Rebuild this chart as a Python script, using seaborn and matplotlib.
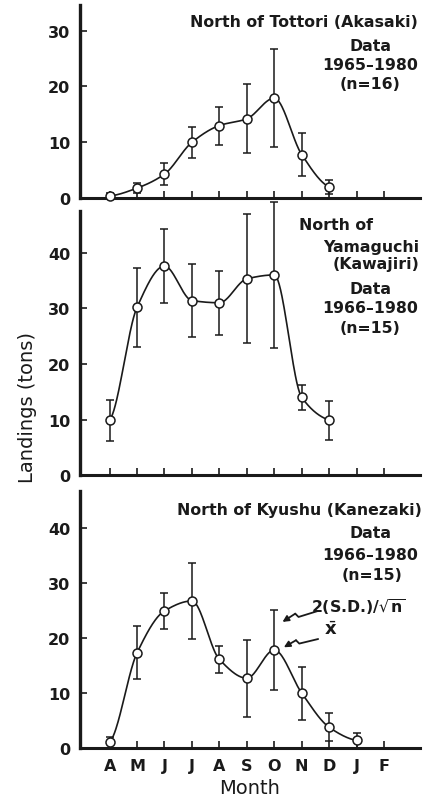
import seaborn as sns
import pandas as pd
import matplotlib.pyplot as plt
import numpy as np

months = ['A', 'M', 'J', 'J', 'A', 'S', 'O', 'N', 'D', 'J', 'F']

# North of Tottori (Akasaki), Apr-Dec
tottori_mean = [0.4, 1.8, 4.3, 10.0, 13.0, 14.2, 17.9, 7.8, 2.0]
tottori_err = [0.6, 0.9, 2.0, 2.8, 3.4, 6.2, 8.8, 3.9, 1.3]

# North of Yamaguchi (Kawajiri), Apr-Dec
yamaguchi_mean = [9.9, 30.2, 37.6, 31.4, 31.0, 35.3, 36.0, 14.0, 9.9]
yamaguchi_err = [3.7, 7.1, 6.6, 6.6, 5.8, 11.6, 13.2, 2.2, 3.5]

# North of Kyushu (Kanezaki), Apr-Jan
kyushu_mean = [1.1, 17.3, 24.9, 26.7, 16.1, 12.7, 17.8, 10.0, 3.8, 1.4]
kyushu_err = [1.0, 4.8, 3.3, 6.9, 2.5, 7.0, 7.2, 4.8, 2.5, 1.3]

sns.set_theme(style='ticks',
              rc={'text.color': 'k', 'axes.labelcolor': 'k',
                  'axes.edgecolor': 'k', 'xtick.color': 'k',
                  'ytick.color': 'k'})
plt.rcParams['font.family'] = ['DejaVu Sans']


def smooth(x, y, n=40):
    #monotone cubic (pchip) curve through the points, drawing only
    x = np.asarray(x, float)
    y = np.asarray(y, float)
    h = np.diff(x)
    d = np.diff(y) / h
    m = np.zeros_like(y)
    for k in range(1, len(y)-1):
        if d[k-1]*d[k] > 0:
            w1 = 2*h[k] + h[k-1]
            w2 = h[k] + 2*h[k-1]
            m[k] = (w1 + w2) / (w1/d[k-1] + w2/d[k])
    #ends flatten out a bit like the hand drawn curves
    m[0] = 0.3*d[0]
    m[-1] = 0.4*d[-1]
    xs, ys = [], []
    t = np.linspace(0, 1, n)
    for k in range(len(y)-1):
        h00 = 2*t**3 - 3*t**2 + 1
        h10 = t**3 - 2*t**2 + t
        h01 = -2*t**3 + 3*t**2
        h11 = t**3 - t**2
        xs.extend(x[k] + t*h[k])
        ys.extend(h00*y[k] + h10*h[k]*m[k] + h01*y[k+1] + h11*h[k]*m[k+1])
    return np.array(xs), np.array(ys)


def draw_panel(ax, mean, err, ymax, yticks):
    df = pd.DataFrame({'pos': np.arange(len(mean)), 'mean': mean, 'err': err})
    cx, cy = smooth(df['pos'], df['mean'])
    sns.lineplot(x=cx, y=cy, ax=ax, color='k', lw=1.2, sort=False,
                 estimator=None, clip_on=False)
    ax.errorbar(df['pos'], df['mean'], yerr=df['err'], fmt='none',
                ecolor='k', elinewidth=1.1, capsize=3.2, capthick=1.1,
                clip_on=False, zorder=3)
    sns.scatterplot(data=df, x='pos', y='mean', ax=ax, s=42,
                    color='white', edgecolor='k', linewidth=1.1,
                    zorder=4, clip_on=False)
    ax.set_xlim(-1.08, 11.3)
    ax.set_ylim(0, ymax)
    ax.set_xticks(range(len(months)))
    ax.set_yticks(yticks)
    ax.set_xlabel('')
    ax.set_ylabel('')
    sns.despine(ax=ax)
    ax.spines['left'].set_linewidth(2.4)
    ax.spines['bottom'].set_linewidth(2.2)
    ax.tick_params(direction='in', length=5, width=1.2, labelsize=11.5,
                   pad=7, colors='k')
    ax.set_yticklabels([str(v) for v in yticks], fontweight='bold')


fig = plt.figure(figsize=(4.3, 8.03), dpi=100)
ax1 = fig.add_axes([0.186, 0.752, 0.79, 0.240])
ax2 = fig.add_axes([0.186, 0.407, 0.79, 0.329])
ax3 = fig.add_axes([0.186, 0.067, 0.79, 0.320])

draw_panel(ax1, tottori_mean, tottori_err, 34.5, [0, 10, 20, 30])
draw_panel(ax2, yamaguchi_mean, yamaguchi_err, 47.5, [0, 10, 20, 30, 40])
draw_panel(ax3, kyushu_mean, kyushu_err, 46.6, [0, 10, 20, 30, 40])

ax1.set_xticklabels([])
ax2.set_xticklabels([])
ax3.set_xticklabels(months, fontweight='bold')
ax3.set_xlabel('Month', fontsize=14, labelpad=4)

# panel captions
kw = dict(fontsize=11.3, fontweight='bold', va='center',
          transform=ax1.transAxes)
ax1.text(0.995, 0.917, 'North of Tottori (Akasaki)', ha='right', **kw)
ax1.text(0.855, 0.793, 'Data', ha='center', **kw)
ax1.text(0.855, 0.694, '1965\u20131980', ha='center', **kw)
ax1.text(0.855, 0.596, '(n=16)', ha='center', **kw)

kw['transform'] = ax2.transAxes
ax2.text(0.645, 0.947, 'North of', ha='left', **kw)
ax2.text(1.0, 0.867, 'Yamaguchi', ha='right', **kw)
ax2.text(1.0, 0.80, '(Kawajiri)', ha='right', **kw)
ax2.text(0.855, 0.705, 'Data', ha='center', **kw)
ax2.text(0.855, 0.636, '1966\u20131980', ha='center', **kw)
ax2.text(0.855, 0.56, '(n=15)', ha='center', **kw)

kw['transform'] = ax3.transAxes
ax3.text(1.005, 0.93, 'North of Kyushu (Kanezaki)', ha='right', **kw)
ax3.text(0.855, 0.84, 'Data', ha='center', **kw)
ax3.text(0.855, 0.755, '1966\u20131980', ha='center', **kw)
ax3.text(0.86, 0.677, '(n=15)', ha='center', **kw)
ax3.text(0.68, 0.553, r'2(S.D.)/$\sqrt{\mathbf{n}}$', ha='left', **kw)
kw['fontsize'] = 13
ax3.text(0.718, 0.463, r'$\bar{\mathbf{x}}$', ha='left', **kw)

# zigzag pointer arrows
for tail, head in (((7.6, 24.9), (6.3, 22.9)), ((7.6, 19.8), (6.35, 18.3))):
    tx, ty = tail
    hx, hy = head
    mx = tx + 0.55*(hx - tx)
    my = ty + 0.55*(hy - ty)
    ax3.plot([tx, mx, mx - 0.12], [ty, my, my + 0.6], color='k', lw=1.3)
    ax3.annotate('', xy=head, xytext=(mx - 0.12, my + 0.6),
                 arrowprops=dict(arrowstyle='-|>', color='k', lw=1.3,
                                 shrinkA=0, shrinkB=0, mutation_scale=9))

fig.text(0.065, 0.492, 'Landings (tons)', rotation=90, ha='center',
         va='center', fontsize=14)

fig.savefig('out.png', dpi=100)
